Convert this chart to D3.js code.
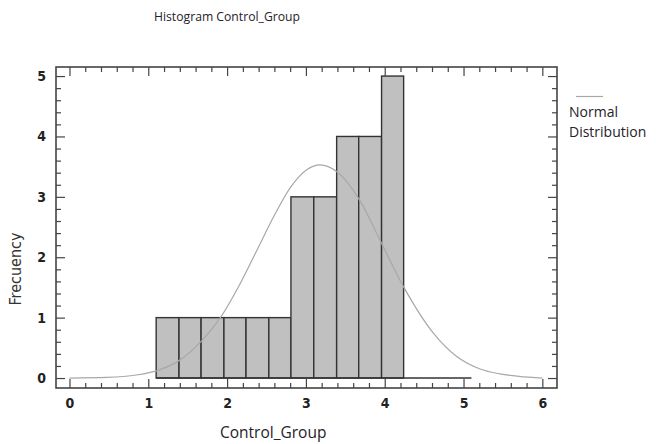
<!DOCTYPE html>
<html>
<head>
<meta charset="utf-8">
<script src="https://cdn.jsdelivr.net/npm/d3@7"></script>
<style>
  body { margin: 0; background: #fff; }
  .tick text { font-family: "Liberation Sans Narrow", "DejaVu Sans Condensed", sans-serif; font-stretch: condensed; font-weight: bold; font-size: 14px; fill: #222; }
  .lbl { font-family: "Open Sans", sans-serif; font-size: 15.5px; fill: #262228; }
</style>
</head>
<body>
<svg width="656" height="444"></svg>
<script>
// histogram bins
var binEdges = [1.10, 1.39, 1.67, 1.96, 2.24, 2.53, 2.81, 3.10, 3.39, 3.67, 3.96, 4.24, 4.53, 4.81, 5.10];
var counts = [1, 1, 1, 1, 1, 1, 3, 3, 4, 4, 5, 0, 0, 0];

// fitted normal curve
var curveX = [0.00, 0.47, 0.85, 1.15, 1.38, 1.68, 1.93, 2.16, 2.38, 2.59, 2.80, 3.01, 3.18, 3.39, 3.68, 3.96, 4.24, 4.62, 4.91, 5.21, 5.46, 6.00];
var curveY = [0.00, 0.01, 0.05, 0.14, 0.28, 0.62, 1.03, 1.55, 2.12, 2.67, 3.15, 3.45, 3.53, 3.42, 2.95, 2.23, 1.51, 0.74, 0.36, 0.15, 0.07, 0.00];

var xTicks = [0, 1, 2, 3, 4, 5, 6];
var yTicks = [0, 1, 2, 3, 4, 5];

function draw() {
    var svg = d3.select("svg");
    var mLeft = 56, mRight = 557, mTop = 67, mBottom = 388;

    var x = d3.scaleLinear().domain([-0.171, 6.186]).range([mLeft, mRight]);
    var y = d3.scaleLinear().domain([-0.165, 5.15]).range([mBottom, mTop]);

    var xMinor = d3.range(0, 6.01, 0.2).filter(v => Math.abs(v - Math.round(v)) > 0.01);
    var yMinor = d3.range(0, 5.01, 0.2).filter(v => Math.abs(v - Math.round(v)) > 0.01);

    // title
    svg.append("text").attr("class", "lbl")
       .attr("x", 227).attr("y", 21)
       .attr("text-anchor", "middle")
       .style("font-size", "12.2px")
       .text("Histogram Control_Group");

    // bars
    var bins = counts.map((c, i) => ({ x0: binEdges[i], x1: binEdges[i + 1], n: c }));
    svg.append("g").selectAll("rect")
       .data(bins.filter(d => d.n > 0))
       .enter().append("rect")
       .attr("x", d => x(d.x0))
       .attr("y", d => y(d.n))
       .attr("width", d => x(d.x1) - x(d.x0))
       .attr("height", d => y(0) - y(d.n))
       .attr("fill", "#c0c0c0")
       .attr("stroke", "#333")
       .attr("stroke-width", 1.4);

    svg.append("line")
       .attr("x1", x(binEdges[0])).attr("x2", x(binEdges[binEdges.length - 1]))
       .attr("y1", y(0)).attr("y2", y(0))
       .attr("stroke", "#333").attr("stroke-width", 1.4);

    // normal curve
    var line = d3.line()
       .x((d, i) => x(curveX[i]))
       .y(d => y(d))
       .curve(d3.curveMonotoneX);
    svg.append("path")
       .attr("d", line(curveY))
       .attr("fill", "none")
       .attr("stroke", "#a8a8a8")
       .attr("stroke-width", 1.2);

    // axes: inward ticks on all four sides
    function addAxis(axis, tx, ty) {
        var g = svg.append("g")
           .attr("transform", "translate(" + tx + "," + ty + ")")
           .call(axis);
        g.select(".domain").remove();
        g.selectAll(".tick line").attr("stroke", "#444").attr("stroke-width", 1.2);
        return g;
    }

    addAxis(d3.axisBottom(x).tickValues(xTicks).tickSize(-9).tickPadding(10).tickFormat(d3.format("d")), 0, mBottom);
    addAxis(d3.axisBottom(x).tickValues(xMinor).tickSize(-5).tickFormat(""), 0, mBottom);
    addAxis(d3.axisTop(x).tickValues(xTicks).tickSize(-9).tickFormat(""), 0, mTop);
    addAxis(d3.axisTop(x).tickValues(xMinor).tickSize(-5).tickFormat(""), 0, mTop);

    addAxis(d3.axisLeft(y).tickValues(yTicks).tickSize(-9).tickPadding(10).tickFormat(d3.format("d")), mLeft, 0);
    addAxis(d3.axisLeft(y).tickValues(yMinor).tickSize(-5).tickFormat(""), mLeft, 0);
    addAxis(d3.axisRight(y).tickValues(yTicks).tickSize(-9).tickFormat(""), mRight, 0);
    addAxis(d3.axisRight(y).tickValues(yMinor).tickSize(-5).tickFormat(""), mRight, 0);

    // frame
    svg.append("rect")
       .attr("x", mLeft).attr("y", mTop)
       .attr("width", mRight - mLeft).attr("height", mBottom - mTop)
       .attr("fill", "none")
       .attr("stroke", "#444")
       .attr("stroke-width", 1.6);

    // axis titles
    svg.append("text").attr("class", "lbl")
       .attr("x", 220).attr("y", 438)
       .text("Control_Group");

    svg.append("text")
       .attr("transform", "translate(21,269) rotate(-90)")
       .attr("text-anchor", "middle")
       .style("font-family", "'Liberation Sans Narrow', 'DejaVu Sans Condensed', sans-serif")
       .style("font-stretch", "condensed")
       .style("font-size", "16px")
       .attr("fill", "#333")
       .text("Frecuency");

    // legend
    svg.append("line")
       .attr("x1", 576).attr("x2", 603).attr("y1", 96.5).attr("y2", 96.5)
       .attr("stroke", "#a8a8a8").attr("stroke-width", 1.2);
    svg.append("text").attr("class", "lbl").style("font-size", "14px").attr("x", 569).attr("y", 117).text("Normal");
    svg.append("text").attr("class", "lbl").style("font-size", "14px").attr("x", 569).attr("y", 137).text("Distribution");
}
draw();
</script>
</body>
</html>
